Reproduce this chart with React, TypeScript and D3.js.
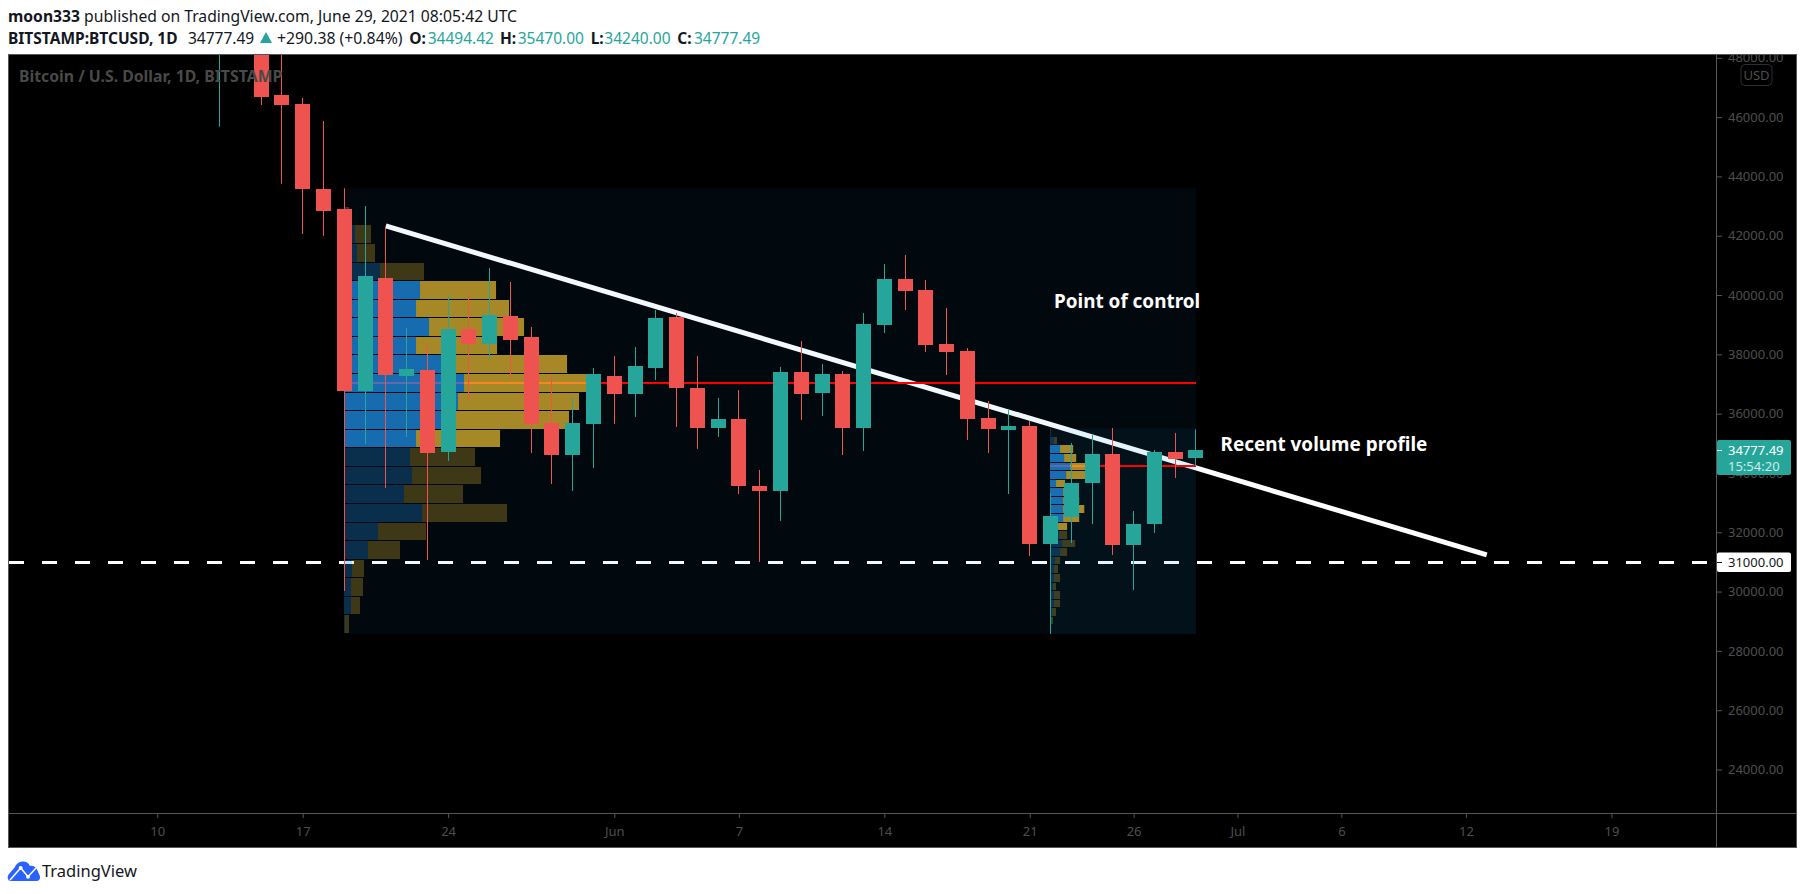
import React, { useRef, useEffect } from 'react';
import * as d3 from 'd3';

// Daily candles. May 13/14 and the tops of May 15/16 sit above the pane.
const days = [
  '05-13', '05-14', '05-15', '05-16', '05-17', '05-18', '05-19', '05-20', '05-21', '05-22',
  '05-23', '05-24', '05-25', '05-26', '05-27', '05-28', '05-29', '05-30', '05-31', '06-01',
  '06-02', '06-03', '06-04', '06-05', '06-06', '06-07', '06-08', '06-09', '06-10', '06-11',
  '06-12', '06-13', '06-14', '06-15', '06-16', '06-17', '06-18', '06-19', '06-20', '06-21',
  '06-22', '06-23', '06-24', '06-25', '06-26', '06-27', '06-28', '06-29'
];
const opens = [
  49500, 49700, 49900, 46746, 46442, 43576, 42902, 36765, 40575, 37270,
  37473, 34708, 38855, 38350, 39294, 38586, 35686, 34607, 35652, 37270,
  36663, 37540, 39260, 36866, 35517, 35821, 33561, 33393, 37405, 36697,
  37338, 35517, 38990, 40541, 40170, 38350, 38114, 35854, 35449, 35584,
  31605, 32506, 33662, 34640, 31572, 32280, 34708, 34494.42
];
const closes = [
  49700, 49900, 46689, 46408, 43586, 42834, 36765, 40642, 37304, 37507,
  34674, 38855, 38350, 39327, 38484, 35652, 34607, 35686, 37338, 36663,
  37608, 39226, 36866, 35517, 35821, 33561, 33393, 37405, 36663, 37338,
  35517, 39024, 40541, 40136, 38316, 38080, 35821, 35483, 35584, 31605,
  32550, 33662, 34640, 31572, 32280, 34708, 34472, 34777.49
];
const highs = [
  51300, 51500, 50700, 49000, 46645, 45869, 43600, 43003, 42285, 38889,
  38316, 39968, 40002, 40912, 40440, 38923, 37338, 36529, 37540, 37945,
  38248, 39496, 39395, 37945, 36529, 36798, 34101, 37574, 38451, 37675,
  37439, 39395, 41047, 41351, 40507, 39563, 38214, 36427, 36124, 35753,
  33325, 35011, 35281, 35517, 32718, 34775, 35348, 35470
];
const lows = [
  45677, 48800, 46408, 43755, 42059, 41991, 30021, 34977, 33494, 35213,
  31066, 34404, 36461, 37844, 37169, 34674, 33629, 33393, 34168, 35652,
  35888, 37135, 35550, 34809, 35213, 33291, 30999, 32381, 35787, 35922,
  34607, 34741, 38720, 39496, 38080, 37304, 35112, 34674, 33291, 31201,
  28570, 31639, 32280, 31235, 30054, 31976, 33831, 34240
];

// Visible range volume profiles, top row first, in arbitrary volume units.
const profileUp = [0, 2, 11, 13, 36, 76, 72, 85, 72, 102, 120, 114, 102, 72, 66, 68, 60, 78, 34, 24, 8, 7, 7, 1];
const profileDown = [0, 3, 16, 18, 44, 76, 93, 95, 81, 121, 127, 121, 123, 84, 65, 69, 59, 85, 48, 32, 12, 12, 9, 4];
const profileValueArea = [5, 13];
const recentUp = [0.3, 4, 10, 14, 20, 16, 6, 13, 13, 13, 13, 8, 9, 12, 10, 5, 4, 4, 3, 4, 4, 2, 1, 0.3];
const recentDown = [0.4, 3, 13, 12, 22, 19, 9, 10, 16, 21, 16, 9, 8, 13, 7, 5, 4, 6, 3, 6, 6, 4, 2, 0.3];
const recentValueArea = [2, 11];

const priceTicks = [24000, 26000, 28000, 30000, 32000, 34000, 36000, 38000, 40000, 42000, 44000, 46000, 48000];
const timeTicks: [string, string][] = [
  ['2021-05-10', '10'], ['2021-05-17', '17'], ['2021-05-24', '24'], ['2021-06-01', 'Jun'],
  ['2021-06-07', '7'], ['2021-06-14', '14'], ['2021-06-21', '21'], ['2021-06-26', '26'],
  ['2021-07-01', 'Jul'], ['2021-07-06', '6'], ['2021-07-12', '12'], ['2021-07-19', '19']
];
const trendDates = ['2021-05-21', '2021-07-13'];
const trendPrices = [42329, 31240];
const support = 31000;
const poc = 37045;
const recentPoc = 34236;
const lastPrice = 34777.49;

const UP = '#26a69a';
const DOWN = '#ef5350';
const GRID = '#565656';
const LABEL = '#4e4e4e';
const FONT = '"Noto Sans", sans-serif';

const utc = (s: string) => new Date(s + 'T00:00:00Z');

const App: React.FC = () => {
  const ref = useRef<SVGSVGElement | null>(null);

  useEffect(() => {
    const svg = d3.select(ref.current);
    svg.selectAll('*').remove();

    const left = 8, right = 1796, top = 55, bottom = 848, axisX = 1717, axisY = 813;
    const x = d3.scaleUtc().domain([utc('2021-05-10'), utc('2021-07-19')]).range([157.3, 1611.4]);
    const y = d3.scaleLinear().domain([24000, 48000]).range([769.5, 57.8]);
    const dayX = (d: string) => x(utc('2021-' + d));

    const defs = svg.append('defs');
    defs.append('clipPath').attr('id', 'pane').append('rect')
      .attr('x', left).attr('y', top).attr('width', axisX - left).attr('height', axisY - top);
    defs.append('clipPath').attr('id', 'scale').append('rect')
      .attr('x', axisX).attr('y', top).attr('width', right - axisX).attr('height', axisY - top);

    // header
    const head = svg.append('g').attr('font-family', FONT).attr('font-size', 15.5).attr('fill', '#131722');
    const line1 = head.append('text').attr('x', 8).attr('y', 22).attr('font-size', 15.7);
    line1.append('tspan').attr('font-weight', 700).text('moon333');
    line1.append('tspan').text(' published on TradingView.com, June 29, 2021 08:05:42 UTC');
    head.append('text').attr('x', 8).attr('y', 44).attr('font-weight', 700).text('BITSTAMP:BTCUSD, 1D');
    head.append('text').attr('x', 188).attr('y', 44).text('34777.49');
    head.append('path').attr('d', 'M260,43 L266,32 L272,43 Z').attr('fill', UP);
    head.append('text').attr('x', 277).attr('y', 44).attr('font-size', 15.8).text('+290.38 (+0.84%)');
    const ohlc: [string, number, string, number][] = [
      ['O:', 409.3, '34494.42', 427.7], ['H:', 500, '35470.00', 517.7],
      ['L:', 590.7, '34240.00', 604.3], ['C:', 677.3, '34777.49', 694]
    ];
    ohlc.forEach(([k, kx, v, vx]) => {
      head.append('text').attr('x', kx).attr('y', 44).attr('font-weight', 700).text(k);
      head.append('text').attr('x', vx).attr('y', 44).attr('fill', UP).text(v);
    });

    svg.append('rect').attr('x', left).attr('y', top).attr('width', right - left).attr('height', bottom - top).attr('fill', '#000');

    const pane = svg.append('g').attr('clip-path', 'url(#pane)');

    // drawings that sit under the profile boxes
    const trend = d3.line<number>().x((_, i) => x(utc(trendDates[i]))).y((d) => y(d));
    pane.append('path').attr('d', trend(trendPrices)).attr('stroke', '#fff').attr('stroke-width', 5).attr('fill', 'none');
    pane.append('line').attr('x1', left).attr('x2', axisX).attr('y1', Math.round(y(support)) + 0.5).attr('y2', Math.round(y(support)) + 0.5)
      .attr('stroke', '#fff').attr('stroke-width', 3).attr('stroke-dasharray', '15 18').attr('stroke-dashoffset', -1);

    const drawProfile = (
      startDay: string, high: number, low: number, pocPrice: number,
      up: number[], down: number[], va: number[]
    ) => {
      const x0 = Math.floor(dayX(startDay));
      const x1 = dayX('06-29');
      const g = pane.append('g');
      g.append('rect').attr('x', x0).attr('y', y(high)).attr('width', x1 - x0).attr('height', y(low) - y(high))
        .attr('fill', 'rgb(33,150,243)').attr('fill-opacity', 0.06);
      g.append('line').attr('x1', x0).attr('x2', x1).attr('y1', Math.round(y(pocPrice))).attr('y2', Math.round(y(pocPrice)))
        .attr('stroke', '#f00').attr('stroke-width', 2);

      const rows = d3.scaleBand<number>().domain(d3.range(up.length)).range([y(high), y(low)]);
      const vol = d3.scaleLinear()
        .domain([0, d3.max(up, (d, i) => d + down[i])!])
        .range([0, (x1 - x0) * 0.29]);
      const rowY = (i: number) => Math.round(rows(i)!);
      const rowH = (i: number) => Math.max(1, Math.round(rows(i)! + rows.step()) - rowY(i) - 1);
      const inVa = (i: number) => i >= va[0] && i <= va[1];

      up.forEach((u, i) => {
        g.append('rect').attr('x', x0).attr('y', rowY(i)).attr('width', vol(u)).attr('height', rowH(i))
          .attr('fill', 'rgb(33,150,243)').attr('fill-opacity', inVa(i) ? 0.7 : 0.27);
        g.append('rect').attr('x', x0 + vol(u)).attr('y', rowY(i)).attr('width', vol(down[i])).attr('height', rowH(i))
          .attr('fill', 'rgb(245,198,50)').attr('fill-opacity', inVa(i) ? 0.68 : 0.25);
      });
    };
    drawProfile('05-19', 43600, 28570, poc, profileUp, profileDown, profileValueArea);
    drawProfile('06-22', 35507, 28570, recentPoc, recentUp, recentDown, recentValueArea);

    // candles
    const bodyW = 15;
    days.forEach((d, i) => {
      const cx = Math.floor(dayX(d));
      const color = closes[i] >= opens[i] ? UP : DOWN;
      pane.append('rect').attr('x', cx).attr('width', 1)
        .attr('y', y(highs[i])).attr('height', y(lows[i]) - y(highs[i])).attr('fill', color);
      const bt = Math.round(y(Math.max(opens[i], closes[i])));
      const bb = Math.round(y(Math.min(opens[i], closes[i])));
      pane.append('rect').attr('x', cx - 7).attr('width', bodyW)
        .attr('y', bt).attr('height', Math.max(1, bb - bt)).attr('fill', color);
    });

    // watermark lies over the candles
    pane.append('text').attr('x', 19).attr('y', 82).attr('font-family', FONT).attr('font-weight', 700)
      .attr('font-size', 15.8).attr('fill', '#494949').text('Bitcoin / U.S. Dollar, 1D, BITSTAMP');

    // annotations
    const note = svg.append('g').attr('font-family', FONT).attr('font-weight', 700).attr('font-size', 18.9).attr('fill', '#fff');
    note.append('text').attr('x', 1054).attr('y', 308).text('Point of control');
    note.append('text').attr('x', 1220.5).attr('y', 450.7).text('Recent volume profile');

    // frame
    const frame = svg.append('g').attr('stroke', GRID).attr('fill', 'none');
    frame.append('rect').attr('x', left + 0.5).attr('y', top - 0.5).attr('width', right - left).attr('height', bottom - top);
    frame.append('line').attr('x1', axisX - 0.5).attr('x2', axisX - 0.5).attr('y1', top).attr('y2', bottom);
    frame.append('line').attr('x1', left).attr('x2', right).attr('y1', axisY + 0.5).attr('y2', axisY + 0.5);

    // price scale
    const priceAxis = d3.axisRight(y).tickValues(priceTicks).tickFormat((d) => d3.format('.2f')(d as number)).tickSize(5).tickPadding(6);
    const py = svg.append('g').attr('clip-path', 'url(#scale)').append('g').attr('transform', `translate(${axisX},0)`).call(priceAxis as any);
    py.select('.domain').remove();
    py.selectAll('line').attr('stroke', GRID);
    py.selectAll('text').attr('fill', LABEL).attr('font-family', FONT).attr('font-size', 13);

    svg.append('rect').attr('x', 1741).attr('y', 64.5).attr('width', 31).attr('height', 21).attr('rx', 4)
      .attr('fill', '#000').attr('stroke', '#2a2e39');
    svg.append('text').attr('x', 1756.5).attr('y', 79.5).attr('text-anchor', 'middle').attr('font-family', FONT)
      .attr('font-size', 13).attr('fill', LABEL).text('USD');

    // last price and support labels
    const lastY = Math.round(y(lastPrice));
    svg.append('rect').attr('x', axisX).attr('y', lastY - 10).attr('width', 74).attr('height', 35).attr('rx', 2).attr('fill', UP);
    svg.append('rect').attr('x', axisX).attr('y', lastY).attr('width', 5).attr('height', 1).attr('fill', '#fff');
    const lastLabel = svg.append('g').attr('font-family', FONT).attr('font-size', 13);
    lastLabel.append('text').attr('x', 1728).attr('y', lastY + 5).attr('fill', '#fff').text(d3.format('.2f')(lastPrice));
    lastLabel.append('text').attr('x', 1728).attr('y', lastY + 21).attr('fill', '#cfeae7').text('15:54:20');

    const supY = Math.round(y(support));
    svg.append('rect').attr('x', axisX).attr('y', supY - 9.5).attr('width', 74).attr('height', 19.5).attr('rx', 2).attr('fill', '#fff');
    svg.append('rect').attr('x', axisX).attr('y', supY).attr('width', 5).attr('height', 1).attr('fill', '#131722');
    svg.append('text').attr('x', 1728).attr('y', supY + 5).attr('font-family', FONT).attr('font-size', 13).attr('fill', '#131722')
      .text(d3.format('.2f')(support));

    // time scale
    const labels = new Map(timeTicks.map(([d, t]) => [utc(d).getTime(), t]));
    const timeAxis = d3.axisBottom(x).tickValues(timeTicks.map(([d]) => utc(d)))
      .tickFormat((d) => labels.get((d as Date).getTime()) ?? '').tickSize(5).tickPadding(9);
    const tx = svg.append('g').attr('transform', `translate(0,${axisY})`).call(timeAxis as any);
    tx.select('.domain').remove();
    tx.selectAll('line').attr('stroke', GRID);
    tx.selectAll('text').attr('fill', LABEL).attr('font-family', FONT).attr('font-size', 13);

    // brand
    const brand = svg.append('g').attr('transform', 'translate(0,1)');
    brand.append('path').attr('fill', '#2962ff')
      .attr('d', 'M11,880 C7,880 7,875 9,873 L15,866 C17,860 27,858 30,865 C35,864 37,868 39,873 C41,876 40,880 37,880 Z');
    brand.append('path').attr('fill', 'none').attr('stroke', '#fff').attr('stroke-width', 1.5)
      .attr('d', 'M10,879 L20.7,867 L28,875.7 L36,867');
    brand.append('circle').attr('cx', 20.7).attr('cy', 867).attr('r', 2).attr('fill', '#fff');
    brand.append('circle').attr('cx', 28).attr('cy', 875.7).attr('r', 2).attr('fill', '#fff');
    brand.append('text').attr('x', 42).attr('y', 876).attr('font-family', FONT).attr('font-size', 16.5).attr('fill', '#131722').text('TradingView');
  }, []);

  return <svg ref={ref} width={1805} height={894} style={{ position: 'absolute', left: 0, top: 0, background: '#fff' }} />;
};

export default App;
